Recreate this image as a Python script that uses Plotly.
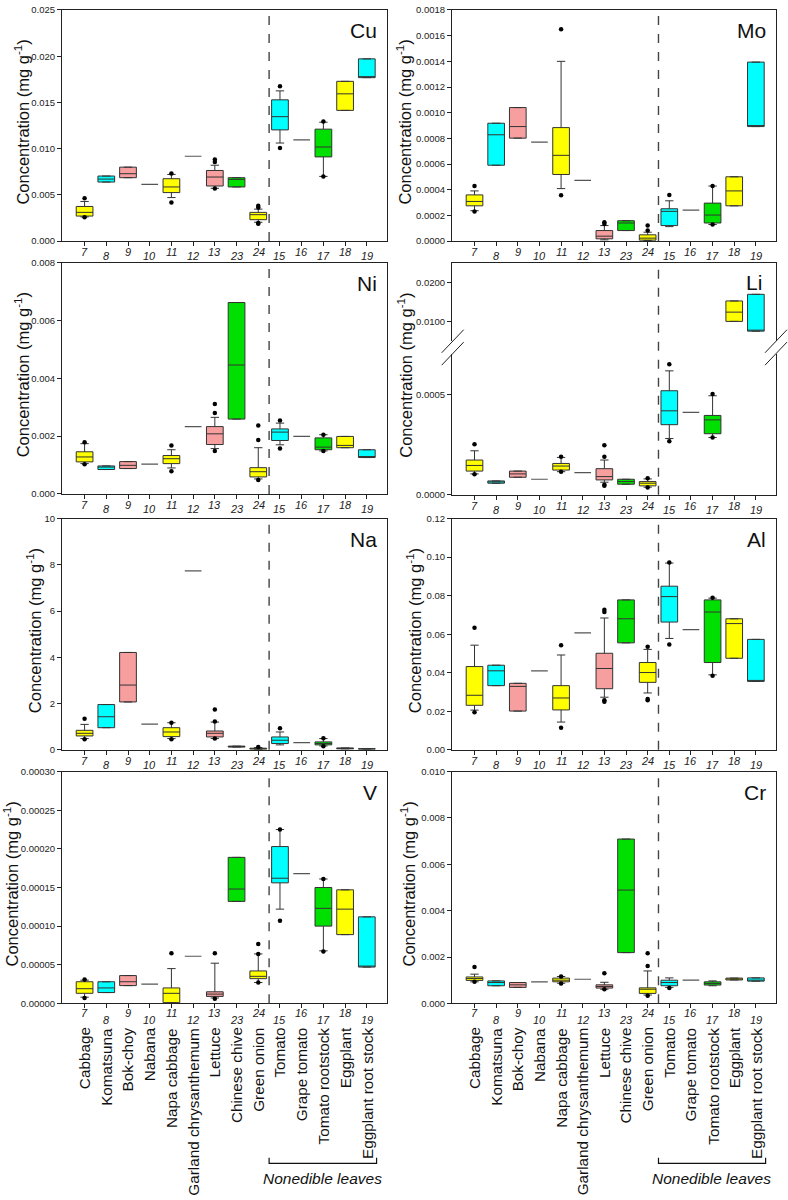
import plotly.graph_objects as go

# ---------------- data ----------------
CAT_NUM = ["7", "8", "9", "10", "11", "12", "13", "23", "24", "15", "16", "17", "18", "19"]
CAT_NAME = ["Cabbage", "Komatsuna", "Bok-choy", "Nabana", "Napa cabbage", "Garland chrysanthemum",
            "Lettuce", "Chinese chive", "Green onion", "Tomato", "Grape tomato", "Tomato rootstock",
            "Eggplant", "Eggplant root stock"]
CAT_GROUP = ["Y", "C", "P", "N", "Y", "N", "P", "G", "Y", "C", "N", "G", "Y", "C"]
GROUP_LABEL = "Nonedible leaves"

CU_Q1 = [0.00271, 0.00639, 0.00686, 0.00614, 0.00525, 0.00918, 0.00596, 0.00586, 0.00232, 0.01203, 0.01096, 0.00911, 0.01414, 0.01768]
CU_MED = [0.00311, 0.00671, 0.00729, 0.00614, 0.00586, 0.00918, 0.00693, 0.00668, 0.00286, 0.01346, 0.01096, 0.01018, 0.01593, 0.01768]
CU_Q3 = [0.00375, 0.00704, 0.00800, 0.00614, 0.00675, 0.00918, 0.00764, 0.00686, 0.00311, 0.01528, 0.01096, 0.01211, 0.01728, 0.01971]
CU_LO = [0.00262, None, None, None, 0.00471, None, 0.00571, None, 0.00204, 0.01061, None, 0.00700, None, None]
CU_HI = [0.00429, None, None, None, 0.00721, None, 0.00821, None, 0.00346, 0.01625, None, 0.01286, None, None]
CU_OUT = [[0.00464, 0.00257], [], [], [], [0.00730, 0.00418], [], [0.00882, 0.00857, 0.00568], [],
          [0.00382, 0.00364, 0.00188, 0.00196], [0.01675, 0.01007], [], [0.01293, 0.00700], [], []]

MO_Q1 = [0.000275, 0.000591, 0.000802, 0.000771, 0.000519, 0.000473, 0.000018, 0.0000823, 0.0000077, 0.000121, 0.000242, 0.000141, 0.000275, 0.000892]
MO_MED = [0.000309, 0.000828, 0.000892, 0.000771, 0.000668, 0.000473, 0.0000386, 0.000141, 0.0000231, 0.000232, 0.000242, 0.000203, 0.000391, 0.000892]
MO_Q3 = [0.000360, 0.000918, 0.00104, 0.000771, 0.000884, 0.000473, 0.0000823, 0.000159, 0.0000489, 0.000252, 0.000242, 0.000296, 0.000501, 0.001394]
MO_LO = [0.000237, None, None, None, 0.000409, None, 0.00001, None, 0.000005, 0.000113, None, 0.000129, None, None]
MO_HI = [0.000391, None, None, None, 0.0014, None, 0.000121, None, 0.0000694, 0.000314, None, 0.000429, None, None]
MO_OUT = [[0.000429, 0.000231], [], [], [], [0.00165, 0.000357], [], [0.000147, 0.000134], [],
          [0.000121, 0.0000823], [0.00036], [], [0.000429, 0.000129], [], []]

NI_Q1 = [0.00111, 0.000846, 0.00088, 0.00103, 0.00105, 0.00233, 0.00171, 0.00259, 0.00059, 0.00185, 0.00199, 0.00153, 0.00160, 0.00126]
NI_MED = [0.00128, 0.00093, 0.00099, 0.00103, 0.00122, 0.00233, 0.00208, 0.00446, 0.00077, 0.00214, 0.00199, 0.00162, 0.00168, 0.00126]
NI_Q3 = [0.00146, 0.00097, 0.00112, 0.00103, 0.00133, 0.00233, 0.00233, 0.00662, 0.00091, 0.00225, 0.00199, 0.00194, 0.00199, 0.00153]
NI_LO = [0.00105, None, None, None, 0.0009, None, 0.00157, None, 0.00052, 0.0017, None, 0.00149, None, None]
NI_HI = [0.00174, None, None, None, 0.00153, None, 0.00265, None, 0.0016, 0.00245, None, 0.00205, None, None]
NI_OUT = [[0.00179, 0.00103], [], [], [], [0.00168, 0.00079], [], [0.00311, 0.0028, 0.00149], [],
          [0.00237, 0.00187, 0.00048], [0.00254, 0.00157], [], [0.00205, 0.00149], [], []]

LI_Q1 = [0.000118, 0.0000576, 0.0000872, 0.0000773, 0.000123, 0.00011, 0.000074, 0.0000526, 0.0000444, 0.000349, 0.00041, 0.000304, 0.0101, 0.0076]
LI_MED = [0.000146, 0.000064, 0.000104, 0.0000773, 0.000143, 0.00011, 0.0000905, 0.0000658, 0.0000576, 0.000418, 0.00041, 0.000373, 0.01247, 0.0076]
LI_Q3 = [0.000173, 0.000069, 0.000118, 0.0000773, 0.000156, 0.00011, 0.00013, 0.0000773, 0.0000658, 0.000518, 0.00041, 0.000395, 0.01533, 0.01703]
LI_LO = [0.000104, None, None, None, 0.000115, None, 0.0000625, None, 0.0000378, 0.00028, None, 0.000285, None, None]
LI_HI = [0.000219, None, None, None, 0.000186, None, 0.000173, None, 0.000079, 0.000617, None, 0.000493, None, None]
LI_OUT = [[0.000252, 0.000102], [], [], [], [0.000189, 0.000115], [], [0.000247, 0.000189, 0.0000494, 0.0000444], [],
          [0.0000822, 0.0000362], [0.00065, 0.000266], [], [0.000502, 0.000285], [], []]

NA_Q1 = [0.60, 0.957, 2.07, 1.114, 0.571, 7.74, 0.557, 0.12, 0.03, 0.271, 0.314, 0.214, 0.04, 0.03]
NA_MED = [0.714, 1.43, 2.80, 1.114, 0.771, 7.74, 0.714, 0.14, 0.05, 0.414, 0.314, 0.271, 0.06, 0.04]
NA_Q3 = [0.843, 1.957, 4.21, 1.114, 0.957, 7.74, 0.814, 0.16, 0.07, 0.557, 0.314, 0.343, 0.08, 0.05]
NA_LO = [0.486, None, None, None, 0.486, None, 0.486, None, 0.01, 0.214, None, 0.17, None, None]
NA_HI = [1.1, None, None, None, 1.171, None, 1.2, None, 0.1, 0.771, None, 0.486, None, None]
NA_OUT = [[1.343, 0.457], [], [], [], [1.17, 0.46], [], [1.743, 1.23, 0.486], [], [0.12], [0.929], [], [0.5, 0.157], [], []]

AL_Q1 = [0.0231, 0.0333, 0.0201, 0.041, 0.0207, 0.0607, 0.0317, 0.0555, 0.035, 0.0663, 0.0624, 0.0453, 0.0475, 0.0355]
AL_MED = [0.0283, 0.041, 0.0329, 0.041, 0.0269, 0.0607, 0.0422, 0.068, 0.0401, 0.0795, 0.0624, 0.0715, 0.0655, 0.0355]
AL_Q3 = [0.0432, 0.0439, 0.0345, 0.041, 0.0333, 0.0607, 0.0501, 0.0778, 0.0453, 0.0849, 0.0624, 0.0778, 0.068, 0.0573]
AL_LO = [0.0206, None, None, None, 0.0144, None, 0.0273, None, 0.0295, 0.0578, None, 0.0389, None, None]
AL_HI = [0.0543, None, None, None, 0.0492, None, 0.0684, None, 0.0521, 0.0969, None, 0.0787, None, None]
AL_OUT = [[0.0633, 0.0195], [], [], [], [0.0543, 0.0115], [], [0.0727, 0.0715, 0.0257, 0.0249], [],
          [0.0535, 0.0264, 0.0257], [0.0972, 0.0547], [], [0.0789, 0.0384], [], []]

V_Q1 = [0.000013, 0.000014, 0.000023, 0.000025, 0.000001, 0.000061, 0.000009, 0.000132, 0.000032, 0.000156, 0.000168, 0.0001, 0.000089, 0.000047]
V_MED = [0.000019, 0.00002, 0.000028, 0.000025, 0.000013, 0.000061, 0.000012, 0.000148, 0.000035, 0.000162, 0.000168, 0.000123, 0.000122, 0.000047]
V_Q3 = [0.000028, 0.000028, 0.000036, 0.000025, 0.00002, 0.000061, 0.000015, 0.000189, 0.000042, 0.000203, 0.000168, 0.00015, 0.000147, 0.000112]
V_LO = [0.000008, None, None, None, 0.0000005, None, 0.000007, None, 0.000027, 0.000122, None, 0.000068, None, None]
V_HI = [0.00003, None, None, None, 0.000045, None, 0.000052, None, 0.000064, 0.000225, None, 0.000161, None, None]
V_OUT = [[0.000031, 0.000007], [], [], [], [0.000065], [], [0.000065, 0.000006], [],
         [0.000077, 0.000064, 0.000027], [0.000225, 0.000107], [], [0.000161, 0.000067], [], []]

CR_Q1 = [0.00099, 0.00076, 0.00069, 0.00093, 0.00093, 0.00104, 0.00066, 0.00219, 0.00043, 0.00076, 0.001, 0.00079, 0.00101, 0.00096]
CR_MED = [0.00107, 0.0009, 0.0008, 0.00093, 0.001, 0.00104, 0.00073, 0.00489, 0.00061, 0.0009, 0.001, 0.00086, 0.00105, 0.00096]
CR_Q3 = [0.00114, 0.00097, 0.0009, 0.00093, 0.00109, 0.00104, 0.0008, 0.00709, 0.00067, 0.001, 0.001, 0.00093, 0.00109, 0.0011]
CR_LO = [0.00093, None, None, None, 0.00087, None, 0.00061, None, 0.00036, 0.00069, None, 0.00076, None, None]
CR_HI = [0.00126, None, None, None, 0.00116, None, 0.00091, None, 0.0014, 0.0011, None, 0.00097, None, None]
CR_OUT = [[0.00157, 0.00093], [], [], [], [0.00116, 0.00086], [], [0.0013, 0.00061], [],
          [0.00216, 0.00161, 0.00033], [0.00066], [], [], [], []]

# ---------------- style / layout ----------------
W, H = 788, 1200
FONT = "Liberation Sans, Arial, sans-serif"
COLORS = {"Y": "#FFFF00", "C": "#00FFFF", "P": "#F79E9E", "G": "#00E000", "N": "rgba(0,0,0,0)"}
XR = [-1.04, 13.93]
BOXW = 0.77


def PX(x):
    return x / W


def PY(y):
    return 1 - y / H


LEFT = (62, 387)
RIGHT = (452, 776)

panels = [
    dict(name="Cu", n=1, xd=LEFT, yd=(4, 237.3), rng=[0, 0.025], tv=[0, 0.005, 0.01, 0.015, 0.02, 0.025], fmt="{:.3f}",
         d=(CU_Q1, CU_MED, CU_Q3, CU_LO, CU_HI, CU_OUT), tx=22, row=0),
    dict(name="Mo", n=2, xd=RIGHT, yd=(4, 237.3), rng=[0, 0.0018], tv=[i * 0.0002 for i in range(10)], fmt="{:.4f}",
         d=(MO_Q1, MO_MED, MO_Q3, MO_LO, MO_HI, MO_OUT), tx=404, row=0),
    dict(name="Ni", n=3, xd=LEFT, yd=(259, 492.5), rng=[0, 0.008], tv=[0, 0.002, 0.004, 0.006, 0.008], fmt="{:.3f}",
         d=(NI_Q1, NI_MED, NI_Q3, NI_LO, NI_HI, NI_OUT), tx=22, row=1),
    dict(name="Na", n=6, xd=LEFT, yd=(517.3, 750.7), rng=[0, 10], tv=[0, 2, 4, 6, 8, 10], fmt="{:.0f}",
         d=(NA_Q1, NA_MED, NA_Q3, NA_LO, NA_HI, NA_OUT), tx=34, row=2),
    dict(name="Al", n=7, xd=RIGHT, yd=(517.3, 750.7), rng=[0, 0.12], tv=[0, 0.02, 0.04, 0.06, 0.08, 0.10, 0.12], fmt="{:.2f}",
         d=(AL_Q1, AL_MED, AL_Q3, AL_LO, AL_HI, AL_OUT), tx=414, row=2),
    dict(name="V", n=8, xd=LEFT, yd=(772.7, 1006.6), rng=[0, 0.0003], tv=[i * 0.00005 for i in range(7)], fmt="{:.5f}",
         d=(V_Q1, V_MED, V_Q3, V_LO, V_HI, V_OUT), tx=11, row=3),
    dict(name="Cr", n=9, xd=RIGHT, yd=(772.7, 1006.6), rng=[0, 0.010], tv=[0, 0.002, 0.004, 0.006, 0.008, 0.010], fmt="{:.3f}",
         d=(CR_Q1, CR_MED, CR_Q3, CR_LO, CR_HI, CR_OUT), tx=408, row=3),
]

# Li broken axis: upper (n=4) and lower (n=5)
LI_UP = dict(n=4, xd=RIGHT, yd=(259, 338), rng=[0.0051, 0.02515], tv=[0.01, 0.02], fmt="{:.4f}")
LI_LO_AX = dict(n=5, xd=RIGHT, yd=(351, 493.3), rng=[0, 0.000702], tv=[0, 0.0005], fmt="{:.4f}")

fig = go.Figure()
layout = dict(width=W, height=H, margin=dict(l=0, r=0, t=0, b=0), paper_bgcolor="white",
              plot_bgcolor="white", showlegend=False, font=dict(family=FONT, color="#222"))
annotations = []
shapes = []


def axis_setup(n, xd, yd, rng, tv, fmt, xside="bottom", xmirror=True, xticks=True):
    sx = "" if n == 1 else str(n)
    layout["xaxis" + sx] = dict(
        domain=[PX(xd[0]), PX(xd[1])], range=XR, anchor="y" + sx, side=xside,
        showline=True, mirror=xmirror, linecolor="#222", linewidth=1,
        ticks="outside" if xticks else "", ticklen=4, tickcolor="#222",
        tickvals=list(range(14)), showticklabels=False, showgrid=False, zeroline=False, fixedrange=True)
    layout["yaxis" + sx] = dict(
        domain=[PY(yd[1]), PY(yd[0])], range=rng, anchor="x" + sx,
        showline=True, mirror=True, linecolor="#222", linewidth=1,
        ticks="outside", ticklen=4, tickcolor="#222",
        tickvals=tv, ticktext=[fmt.format(v) for v in tv],
        tickfont=dict(size=9.5, color="#222", family=FONT),
        showgrid=False, zeroline=False, fixedrange=True)


def add_box(n, i, q1, med, q3, lo, hi):
    sx = "" if n == 1 else str(n)
    g = CAT_GROUP[i]
    lo = q1 if lo is None else lo
    hi = q3 if hi is None else hi
    fig.add_trace(go.Box(
        x=[i], q1=[q1], median=[med], q3=[q3], lowerfence=[lo], upperfence=[hi],
        width=BOXW, whiskerwidth=0.5, fillcolor=COLORS[g],
        line=dict(color="#555" if g == "N" else "#333", width=1.2 if g == "N" else 1),
        boxpoints=False, hoverinfo="skip", xaxis="x" + sx, yaxis="y" + sx))


def add_outliers(n, xs, ys):
    sx = "" if n == 1 else str(n)
    if xs:
        fig.add_trace(go.Scatter(x=xs, y=ys, mode="markers", marker=dict(color="black", size=4.5),
                                 hoverinfo="skip", xaxis="x" + sx, yaxis="y" + sx, cliponaxis=False))


def add_numbers(n, bottom_py, off_a, off_b):
    sx = "" if n == 1 else str(n)
    for i, t in enumerate(CAT_NUM):
        annotations.append(dict(
            x=i, xref="x" + sx, y=PY(bottom_py + (off_a if i % 2 == 0 else off_b)), yref="paper",
            text="<i>" + t + "</i>", showarrow=False, xanchor="center", yanchor="middle",
            font=dict(size=11, color="#222", family=FONT)))


def add_title(tx, yd):
    annotations.append(dict(
        x=PX(tx), xref="paper", y=PY((yd[0] + yd[1]) / 2 - 3), yref="paper",
        text="Concentration (mg g<sup>-1</sup>)", showarrow=False, textangle=-90,
        xanchor="center", yanchor="middle", font=dict(size=16.5, color="#111", family=FONT)))


def add_label(text, xd, ycenter):
    annotations.append(dict(
        x=PX(xd[1] - 8), xref="paper", y=PY(ycenter), yref="paper", text=text, showarrow=False,
        xanchor="right", yanchor="middle", font=dict(size=21, color="#111", family=FONT)))


def add_divider(n, y0, y1):
    sx = "" if n == 1 else str(n)
    shapes.append(dict(type="line", xref="x" + sx, yref="paper", x0=8.5, x1=8.5, y0=PY(y1), y1=PY(y0),
                       line=dict(color="#444", width=1.4, dash="dash")))


for p in panels:
    n = p["n"]
    axis_setup(n, p["xd"], p["yd"], p["rng"], p["tv"], p["fmt"])
    q1s, meds, q3s, los, his, outs = p["d"]
    oxs, oys = [], []
    for i in range(14):
        add_box(n, i, q1s[i], meds[i], q3s[i], los[i], his[i])
        for v in outs[i]:
            oxs.append(i)
            oys.append(v)
    add_outliers(n, oxs, oys)
    if p["row"] == 3:
        add_numbers(n, p["yd"][1], 9.5, 16.5)
    else:
        add_numbers(n, p["yd"][1], 11, 15.5)
    add_title(p["tx"], p["yd"])
    add_label(p["name"], p["xd"], p["yd"][0] + 21)
    add_divider(n, p["yd"][0], p["yd"][1])

# Li panel (broken axis)
axis_setup(4, LI_UP["xd"], LI_UP["yd"], LI_UP["rng"], LI_UP["tv"], LI_UP["fmt"], xside="top", xmirror=False, xticks=False)
axis_setup(5, LI_LO_AX["xd"], LI_LO_AX["yd"], LI_LO_AX["rng"], LI_LO_AX["tv"], LI_LO_AX["fmt"], xmirror=False)
up_x, up_y, lo_x, lo_y = [], [], [], []
for i in range(14):
    seg = 4 if LI_Q3[i] > 0.003 else 5
    add_box(seg, i, LI_Q1[i], LI_MED[i], LI_Q3[i], LI_LO[i], LI_HI[i])
    for v in LI_OUT[i]:
        if v > 0.003:
            up_x.append(i)
            up_y.append(v)
        else:
            lo_x.append(i)
            lo_y.append(v)
add_outliers(4, up_x, up_y)
add_outliers(5, lo_x, lo_y)
add_numbers(5, LI_LO_AX["yd"][1], 11, 15.5)
add_title(405, (259, 493.3))
annotations.append(dict(x=PX(764), xref="paper", y=PY(279), yref="paper", text="Li", showarrow=False,
                        xanchor="right", yanchor="middle", font=dict(size=21, color="#111", family=FONT)))
add_divider(5, 259, 493.3)
for ax in (452.7, 776):
    for dy in (0, 12.5):
        shapes.append(dict(type="line", xref="paper", yref="paper",
                           x0=PX(ax - 11), y0=PY(350 + dy), x1=PX(ax + 11), y1=PY(326.7 + dy),
                           line=dict(color="#222", width=1)))

# category names under the bottom panels + bracket
for n in (8, 9):
    sx = str(n)
    for i, name in enumerate(CAT_NAME):
        annotations.append(dict(
            x=i, xref="x" + sx, y=PY(1029), yref="paper", text=name, showarrow=False,
            textangle=-90, xanchor="center", yanchor="top", font=dict(size=15.3, color="#111", family=FONT)))
    shapes.append(dict(type="path", xref="x" + sx, yref="paper",
                       path="M 8.5,{a} L 8.5,{b} L 13.45,{b} L 13.45,{a}".format(a=PY(1162.5), b=PY(1168)),
                       line=dict(color="#111", width=1.2)))
    annotations.append(dict(
        x=10.95, xref="x" + sx, y=PY(1183), yref="paper", text="<i>" + GROUP_LABEL + "</i>",
        showarrow=False, xanchor="center", yanchor="middle", font=dict(size=15.5, color="#111", family=FONT)))

layout["annotations"] = annotations
layout["shapes"] = shapes
layout["boxmode"] = "overlay"
fig.update_layout(**layout)
fig.write_html("out.html", config={"displayModeBar": False},
               post_script="document.body.style.margin='0px';document.body.style.padding='0px';"
                           "document.body.style.overflow='hidden';")
